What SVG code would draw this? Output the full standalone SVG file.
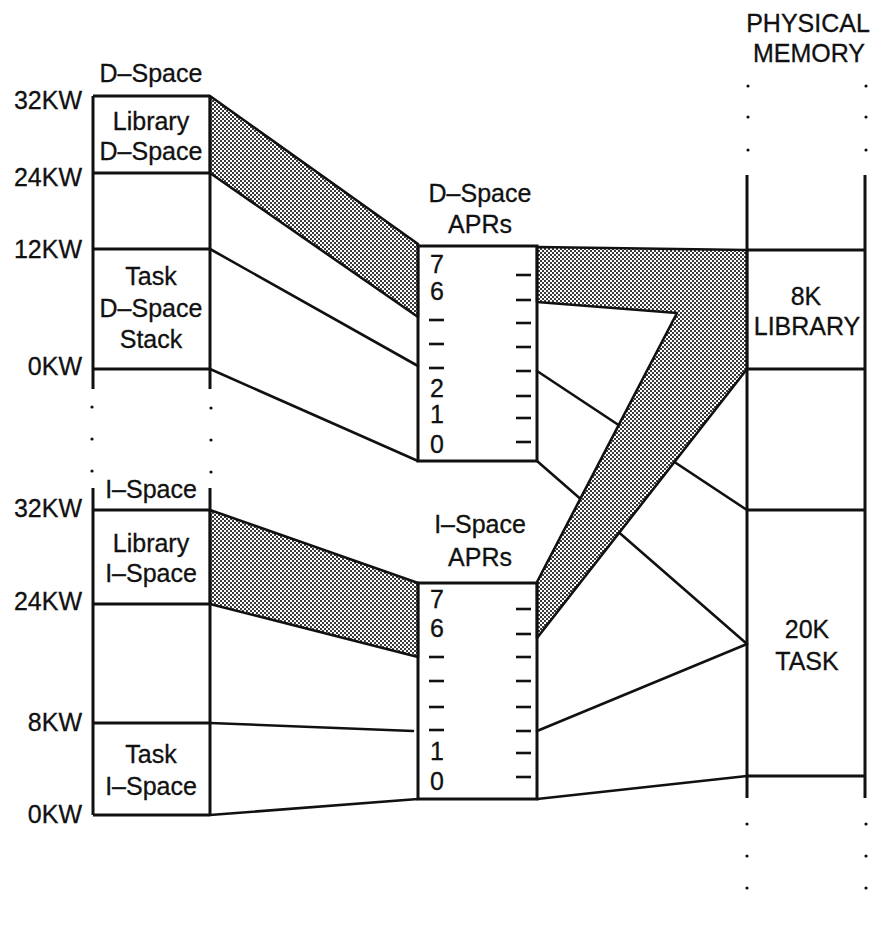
<svg xmlns="http://www.w3.org/2000/svg" width="874" height="945" viewBox="0 0 874 945">
<defs>
<pattern id="dither" patternUnits="userSpaceOnUse" width="4" height="4">
<rect width="4" height="4" fill="#ffffff"/>
<rect x="0" y="0" width="2" height="2" fill="#3a3a3a"/>
<rect x="2" y="2" width="2" height="2" fill="#3a3a3a"/>
</pattern>
<style>
text{font-family:"Liberation Sans",Arial,sans-serif;font-size:25px;fill:#111;stroke:#111;stroke-width:0.3;}
.c{text-anchor:middle;}
.r{text-anchor:end;}
.box{fill:none;stroke:#111;stroke-width:3;}
.ln{fill:none;stroke:#111;stroke-width:2.6;stroke-linecap:round;}
.band{fill:url(#dither);stroke:#111;stroke-width:2.6;stroke-linejoin:round;}
.dash{stroke:#111;stroke-width:2.6;}
.dot{fill:#111;}
</style>
</defs>
<rect width="874" height="945" fill="#ffffff"/>

<g id="connectors">
<line class="ln" x1="210" y1="249" x2="418" y2="366"/>
<line class="ln" x1="210" y1="369" x2="418" y2="461"/>
<line class="ln" x1="537" y1="371" x2="747" y2="510"/>
<line class="ln" x1="537" y1="461" x2="747" y2="644"/>
<line class="ln" x1="210" y1="723" x2="413" y2="731"/>
<line class="ln" x1="210" y1="815" x2="418" y2="799"/>
<line class="ln" x1="537" y1="731" x2="747" y2="644"/>
<line class="ln" x1="537" y1="799" x2="747" y2="776"/>
<polygon class="band" points="210,96 418,244 418,317 210,173"/>
<polygon class="band" points="210,510 418,583 418,657 210,604"/>
<polygon class="band" points="537,247 747,250 747,369 537,638 537,582 677,313 537,302"/>
</g>

<g id="d-space">
<text class="c" x="151" y="82">D–Space</text>
<line class="box" x1="93" y1="96" x2="93" y2="389"/>
<line class="box" x1="210" y1="96" x2="210" y2="389"/>
<line class="box" x1="93" y1="96" x2="210" y2="96"/>
<line class="box" x1="93" y1="173" x2="210" y2="173"/>
<line class="box" x1="93" y1="249" x2="210" y2="249"/>
<line class="box" x1="93" y1="369" x2="210" y2="369"/>
<text class="r" x="82" y="109">32KW</text>
<text class="r" x="82" y="186">24KW</text>
<text class="r" x="82" y="258">12KW</text>
<text class="r" x="82" y="375">0KW</text>
<text class="c" x="151" y="130">Library</text>
<text class="c" x="151" y="160">D–Space</text>
<text class="c" x="151" y="285">Task</text>
<text class="c" x="151" y="317">D–Space</text>
<text class="c" x="151" y="348">Stack</text>
<circle class="dot" cx="92" cy="407" r="1.6"/>
<circle class="dot" cx="92" cy="439" r="1.6"/>
<circle class="dot" cx="92" cy="471" r="1.6"/>
<circle class="dot" cx="211" cy="408" r="1.6"/>
<circle class="dot" cx="211" cy="440" r="1.6"/>
<circle class="dot" cx="211" cy="472" r="1.6"/>
</g>

<g id="i-space">
<text class="c" x="151" y="498">I–Space</text>
<line class="box" x1="93" y1="488" x2="93" y2="815"/>
<line class="box" x1="210" y1="488" x2="210" y2="815"/>
<line class="box" x1="93" y1="510" x2="210" y2="510"/>
<line class="box" x1="93" y1="604" x2="210" y2="604"/>
<line class="box" x1="93" y1="723" x2="210" y2="723"/>
<line class="box" x1="93" y1="815" x2="210" y2="815"/>
<text class="r" x="82" y="517">32KW</text>
<text class="r" x="82" y="610">24KW</text>
<text class="r" x="82" y="731">8KW</text>
<text class="r" x="82" y="823">0KW</text>
<text class="c" x="151" y="552">Library</text>
<text class="c" x="151" y="582">I–Space</text>
<text class="c" x="151" y="763">Task</text>
<text class="c" x="151" y="795">I–Space</text>
</g>

<g id="d-space-aprs">
<text class="c" x="480" y="202">D–Space</text>
<text class="c" x="480" y="233">APRs</text>
<rect class="box" x="418" y="246" width="119" height="215"/>
<text x="430" y="273">7</text>
<text x="430" y="300">6</text>
<text x="430" y="397">2</text>
<text x="430" y="423">1</text>
<text x="430" y="453">0</text>
<line class="dash" x1="429" y1="320" x2="444" y2="320"/>
<line class="dash" x1="429" y1="344" x2="444" y2="344"/>
<line class="dash" x1="429" y1="368" x2="444" y2="368"/>
<line class="dash" x1="516" y1="275" x2="531" y2="275"/>
<line class="dash" x1="516" y1="300" x2="531" y2="300"/>
<line class="dash" x1="516" y1="323" x2="531" y2="323"/>
<line class="dash" x1="516" y1="347" x2="531" y2="347"/>
<line class="dash" x1="516" y1="371" x2="531" y2="371"/>
<line class="dash" x1="516" y1="396" x2="531" y2="396"/>
<line class="dash" x1="516" y1="418" x2="531" y2="418"/>
<line class="dash" x1="516" y1="442" x2="531" y2="442"/>
</g>

<g id="i-space-aprs">
<text class="c" x="480" y="533">I–Space</text>
<text class="c" x="480" y="566">APRs</text>
<rect class="box" x="418" y="583" width="119" height="216"/>
<text x="430" y="608">7</text>
<text x="430" y="637">6</text>
<text x="430" y="760">1</text>
<text x="430" y="790">0</text>
<line class="dash" x1="429" y1="657" x2="444" y2="657"/>
<line class="dash" x1="429" y1="681" x2="444" y2="681"/>
<line class="dash" x1="429" y1="707" x2="444" y2="707"/>
<line class="dash" x1="429" y1="730" x2="444" y2="730"/>
<line class="dash" x1="516" y1="609" x2="531" y2="609"/>
<line class="dash" x1="516" y1="634" x2="531" y2="634"/>
<line class="dash" x1="516" y1="657" x2="531" y2="657"/>
<line class="dash" x1="516" y1="681" x2="531" y2="681"/>
<line class="dash" x1="516" y1="707" x2="531" y2="707"/>
<line class="dash" x1="516" y1="731" x2="531" y2="731"/>
<line class="dash" x1="516" y1="753" x2="531" y2="753"/>
<line class="dash" x1="516" y1="777" x2="531" y2="777"/>
</g>

<g id="physical-memory">
<text class="c" x="808" y="32">PHYSICAL</text>
<text class="c" x="809" y="62">MEMORY</text>
<circle class="dot" cx="748" cy="86" r="1.6"/>
<circle class="dot" cx="748" cy="117" r="1.6"/>
<circle class="dot" cx="748" cy="150" r="1.6"/>
<circle class="dot" cx="866" cy="86" r="1.6"/>
<circle class="dot" cx="866" cy="117" r="1.6"/>
<circle class="dot" cx="866" cy="150" r="1.6"/>
<line class="box" x1="747" y1="175" x2="747" y2="798"/>
<line class="box" x1="865" y1="175" x2="865" y2="798"/>
<line class="box" x1="747" y1="250" x2="865" y2="250"/>
<line class="box" x1="747" y1="369" x2="865" y2="369"/>
<line class="box" x1="747" y1="510" x2="865" y2="510"/>
<line class="box" x1="747" y1="776" x2="865" y2="776"/>
<text class="c" x="806" y="305">8K</text>
<text class="c" x="807" y="335">LIBRARY</text>
<text class="c" x="807" y="638">20K</text>
<text class="c" x="807" y="670">TASK</text>
<circle class="dot" cx="747" cy="824" r="1.6"/>
<circle class="dot" cx="747" cy="856" r="1.6"/>
<circle class="dot" cx="747" cy="888" r="1.6"/>
<circle class="dot" cx="866" cy="824" r="1.6"/>
<circle class="dot" cx="866" cy="856" r="1.6"/>
<circle class="dot" cx="866" cy="888" r="1.6"/>
</g>
</svg>
